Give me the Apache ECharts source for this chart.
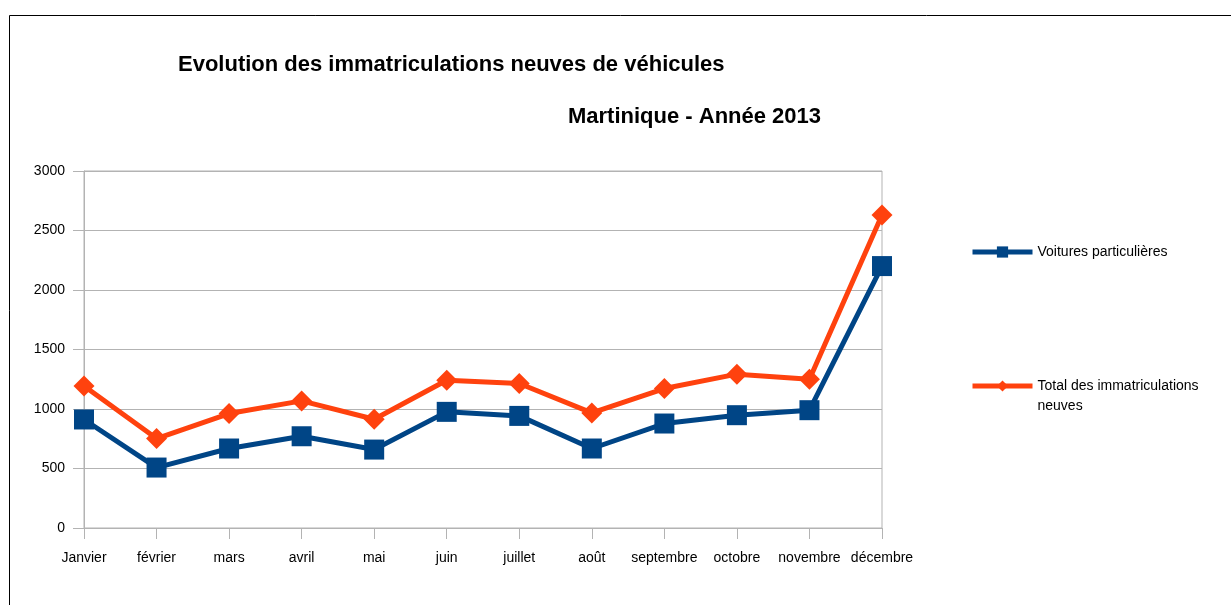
<!DOCTYPE html>
<html>
<head>
<meta charset="utf-8">
<script src="https://cdn.jsdelivr.net/npm/echarts@6/dist/echarts.min.js"></script>
<style>
  html, body { margin: 0; padding: 0; background: #fff; }
  #chart { width: 1231px; height: 605px; }
</style>
</head>
<body>
<div id="chart"></div>
<script>
const months = ['Janvier', 'février', 'mars', 'avril', 'mai', 'juin', 'juillet', 'août', 'septembre', 'octobre', 'novembre', 'décembre'];
const voitures = [912, 508, 668, 771, 659, 976, 942, 668, 878, 948, 990, 2201];
const total = [1194, 752, 962, 1068, 914, 1242, 1214, 967, 1172, 1293, 1250, 2630];

const font = '"Liberation Sans", Arial, sans-serif';
const gridColor = '#b3b3b3';

const chart = echarts.init(document.getElementById('chart'), null, { renderer: 'canvas' });

chart.setOption({
    animation: false,
    backgroundColor: '#fff',
    textStyle: { fontFamily: font },
    graphic: [
        // frame of the chart (only top and left edges visible)
        {
            type: 'rect',
            shape: { x: 9.5, y: 15.5, width: 1400, height: 800 },
            style: { fill: 'none', stroke: '#000', lineWidth: 1 },
            silent: true,
        },
    ],
    title: [
        {
            text: 'Evolution des immatriculations neuves de véhicules',
            left: 178,
            top: 54,
            padding: 0,
            textStyle: { fontFamily: font, fontSize: 22, fontWeight: 'bold', color: '#000' },
        },
        {
            text: 'Martinique - Année 2013',
            left: 568,
            top: 106,
            padding: 0,
            textStyle: { fontFamily: font, fontSize: 22, fontWeight: 'bold', color: '#000' },
        },
    ],
    legend: [
        {
            data: ['Voitures particulières'],
            left: 970,
            top: 245,
            padding: 0,
            itemWidth: 60,
            itemHeight: 14,
            lineStyle: { width: 5 },
            textStyle: { fontFamily: font, fontSize: 14, color: '#000' },
        },
        {
            data: ['Total des immatriculations neuves'],
            left: 970,
            top: 356,
            padding: 0,
            itemWidth: 60,
            itemHeight: 14,
            lineStyle: { width: 5 },
            // blank first line keeps the icon level with the first text line
            formatter: () => ' \nTotal des immatriculations\nneuves',
            textStyle: { fontFamily: font, fontSize: 14, color: '#000', lineHeight: 20 },
        },
    ],
    grid: {
        left: 84,
        right: 349,
        top: 171,
        bottom: 77,
        show: true,
        borderColor: gridColor,
        borderWidth: 1,
        containLabel: false,
    },
    xAxis: {
        type: 'category',
        data: months,
        boundaryGap: false,
        axisLine: { lineStyle: { color: gridColor, width: 1 } },
        axisTick: { show: true, length: 11, alignWithLabel: true, lineStyle: { color: gridColor } },
        axisLabel: { color: '#000', fontFamily: font, fontSize: 14, margin: 23, interval: 0 },
        splitLine: { show: false },
    },
    yAxis: {
        type: 'value',
        min: 0,
        max: 3000,
        interval: 500,
        axisLine: { show: true, lineStyle: { color: gridColor, width: 1 } },
        axisTick: { show: true, length: 11, lineStyle: { color: gridColor } },
        axisLabel: { color: '#000', fontFamily: font, fontSize: 14, margin: 19, formatter: (v) => String(v) },
        splitLine: { show: true, lineStyle: { color: gridColor, width: 1 } },
    },
    series: [
        {
            name: 'Voitures particulières',
            type: 'line',
            data: voitures,
            symbol: 'rect',
            symbolSize: 20,
            lineStyle: { color: '#004586', width: 5 },
            itemStyle: { color: '#004586' },
            z: 3,
        },
        {
            name: 'Total des immatriculations neuves',
            type: 'line',
            data: total,
            symbol: 'diamond',
            symbolSize: 21,
            lineStyle: { color: '#ff420e', width: 5 },
            itemStyle: { color: '#ff420e' },
            z: 2,
        },
    ],
});
</script>
</body>
</html>
